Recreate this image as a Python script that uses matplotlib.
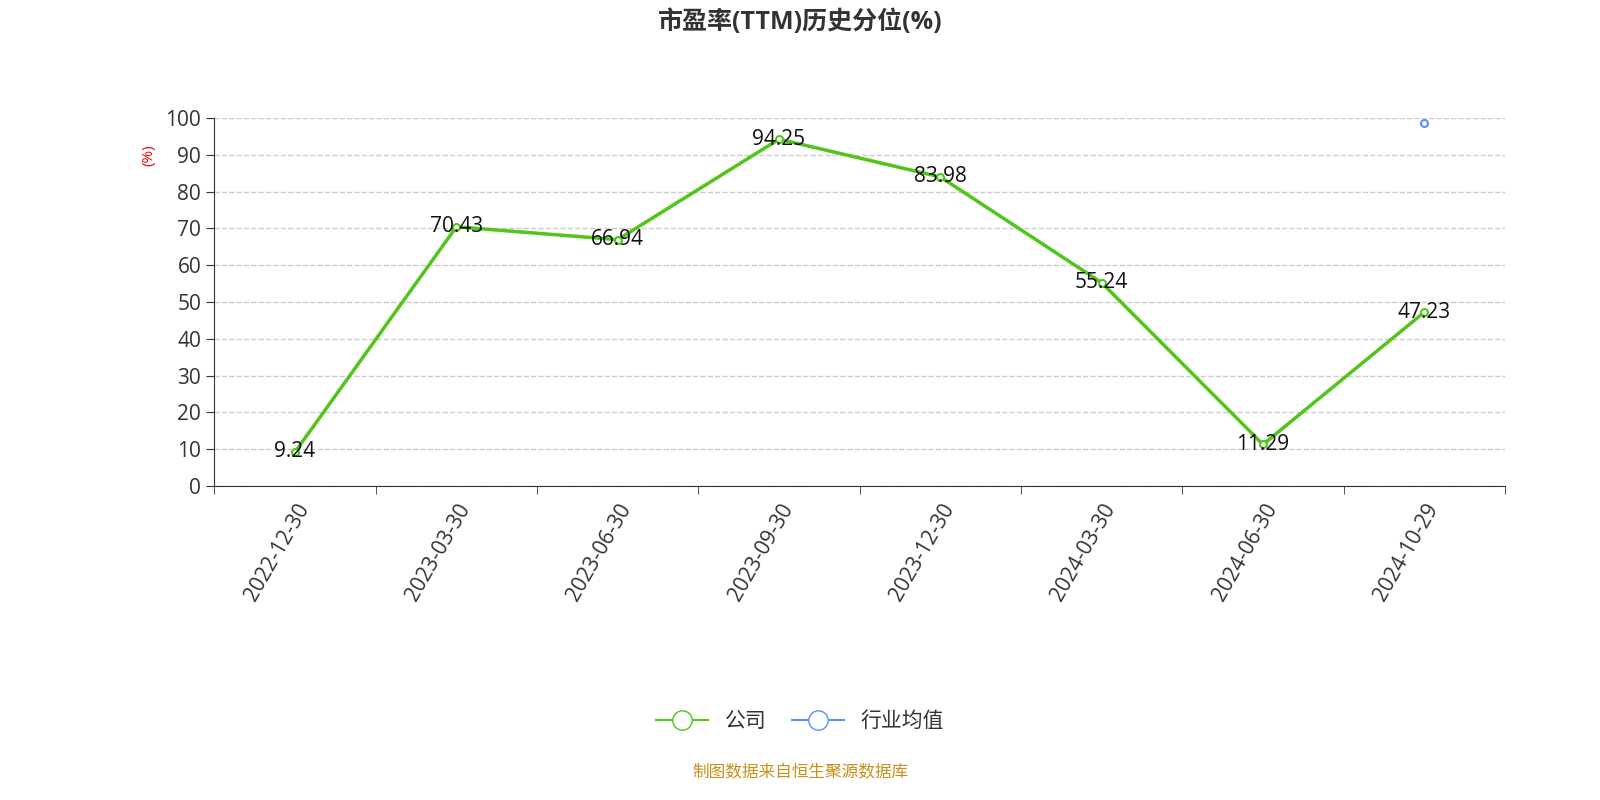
import matplotlib.pyplot as plt
from matplotlib.lines import Line2D

plt.rcParams['font.family'] = ['Open Sans', 'Noto Sans CJK SC', 'DejaVu Sans']

dates = ['2022-12-30', '2023-03-30', '2023-06-30', '2023-09-30',
         '2023-12-30', '2024-03-30', '2024-06-30', '2024-10-29']
company = [9.24, 70.43, 66.94, 94.25, 83.98, 55.24, 11.29, 47.23]
industry_x = 7
industry_y = 98.6

green = '#52c41a'
blue = '#5b8ff9'

fig = plt.figure(figsize=(16, 8), dpi=100)
ax = fig.add_axes([0.134, 0.3925, 0.8066, 0.46])

x = list(range(len(dates)))
ax.plot(x, company, color=green, lw=2.5, marker='o', ms=5,
        mfc='white', mec=green, mew=1.5, zorder=3)
for xi, v in zip(x, company):
    ax.text(xi, v, f'{v:.2f}', ha='center', va='center', fontsize=15, color='#111', zorder=4)
ax.plot([industry_x], [industry_y], marker='o', ms=5, mfc='white', mec=blue, mew=1.5, ls='none')

ax.set_xlim(-0.5, len(dates) - 0.5)
ax.set_ylim(0, 100)
ax.set_yticks(range(0, 101, 10))
ax.set_xticks(x)
ax.set_xticklabels(dates, rotation=60, ha='right', rotation_mode='anchor', fontsize=15, color='#333')
ax.set_xticks([i - 0.5 for i in range(len(dates) + 1)], minor=True)
ax.tick_params(axis='x', which='major', length=0, pad=10)
ax.tick_params(axis='x', which='minor', length=6, color='#333')
ax.tick_params(axis='y', labelsize=15, labelcolor='#333', length=6, color='#333')
ax.grid(axis='y', ls='--', color='#cccccc', lw=1)
for s in ['top', 'right']:
    ax.spines[s].set_visible(False)
ax.spines['left'].set_color('#333')
ax.spines['bottom'].set_color('#333')
ax.set_ylabel('(%)', color='red', fontsize=11, labelpad=-2)
ax.yaxis.set_label_coords(-0.045, 0.9)

fig.text(0.5, 0.972, '市盈率(TTM)历史分位(%)', ha='center', va='center',
         fontsize=18, fontweight='bold', color='#333')

handles = [Line2D([], [], color=green, marker='o', ms=14, mfc='white', mec=green, lw=1.5),
           Line2D([], [], color=blue, marker='o', ms=14, mfc='white', mec=blue, lw=1.5)]
fig.legend(handles, ['公司', '行业均值'], loc='center', bbox_to_anchor=(0.5, 0.098),
           ncol=2, frameon=False, fontsize=15, handlelength=2.5, columnspacing=1.2,
           labelcolor='#333')
fig.text(0.5, 0.034, '制图数据来自恒生聚源数据库', ha='center', va='center',
         fontsize=12, color='#c8901a')

fig.savefig('out.png')
